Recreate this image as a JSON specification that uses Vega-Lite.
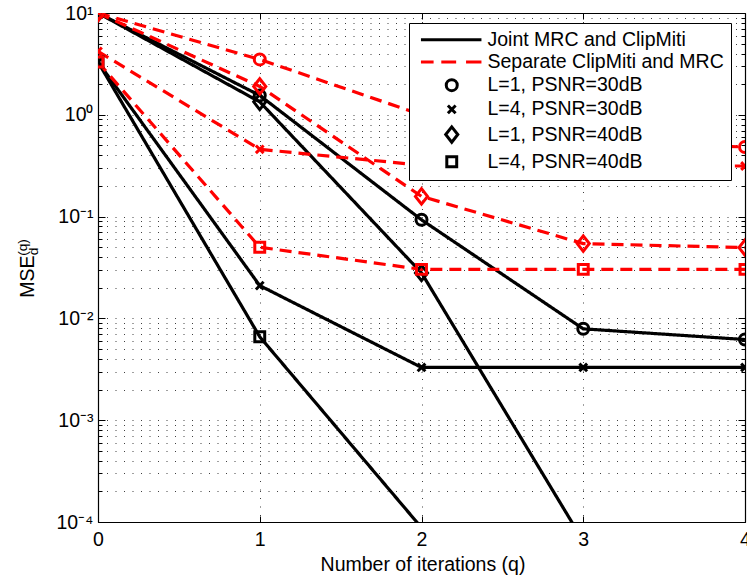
{
  "$schema": "https://vega.github.io/schema/vega-lite/v6.json",
  "width": 647,
  "height": 509,
  "autosize": {"type": "none"},
  "padding": {"left": 98, "top": 13, "right": 2, "bottom": 58},
  "background": "white",
  "config": {
    "font": "Liberation Sans",
    "view": {"stroke": null},
    "axis": {
      "domainColor": "#000000",
      "domainWidth": 1.2,
      "tickColor": "#000000",
      "tickWidth": 1,
      "labelColor": "#000000",
      "titleColor": "#000000",
      "labelFont": "Liberation Sans",
      "titleFont": "Liberation Sans",
      "labelFontSize": 19.5,
      "titleFontSize": 19.5,
      "titleFontWeight": "normal",
      "gridColor": "#000000",
      "gridDash": [1, 7.5],
      "gridWidth": 1,
      "gridOpacity": 0.75,
      "labelFlush": false,
      "labelOverlap": false
    }
  },
  "data": {
    "values": [
      {"method": "Joint MRC and ClipMiti", "config": "L=1, PSNR=30dB", "q": 0, "v": 10},
      {"method": "Joint MRC and ClipMiti", "config": "L=1, PSNR=30dB", "q": 1, "v": 1.55},
      {"method": "Joint MRC and ClipMiti", "config": "L=1, PSNR=30dB", "q": 2, "v": 0.093},
      {"method": "Joint MRC and ClipMiti", "config": "L=1, PSNR=30dB", "q": 3, "v": 0.0079},
      {"method": "Joint MRC and ClipMiti", "config": "L=1, PSNR=30dB", "q": 4, "v": 0.0062},
      {"method": "Joint MRC and ClipMiti", "config": "L=4, PSNR=30dB", "q": 0, "v": 3.3},
      {"method": "Joint MRC and ClipMiti", "config": "L=4, PSNR=30dB", "q": 1, "v": 0.021},
      {"method": "Joint MRC and ClipMiti", "config": "L=4, PSNR=30dB", "q": 2, "v": 0.0033},
      {"method": "Joint MRC and ClipMiti", "config": "L=4, PSNR=30dB", "q": 3, "v": 0.0033},
      {"method": "Joint MRC and ClipMiti", "config": "L=4, PSNR=30dB", "q": 4, "v": 0.0033},
      {"method": "Joint MRC and ClipMiti", "config": "L=1, PSNR=40dB", "q": 0, "v": 10},
      {"method": "Joint MRC and ClipMiti", "config": "L=1, PSNR=40dB", "q": 1, "v": 1.34},
      {"method": "Joint MRC and ClipMiti", "config": "L=1, PSNR=40dB", "q": 2, "v": 0.028},
      {"method": "Joint MRC and ClipMiti", "config": "L=1, PSNR=40dB", "q": 3, "v": 0.000065},
      {"method": "Joint MRC and ClipMiti", "config": "L=1, PSNR=40dB", "q": 4, "v": 0.000001},
      {"method": "Joint MRC and ClipMiti", "config": "L=4, PSNR=40dB", "q": 0, "v": 3.3},
      {"method": "Joint MRC and ClipMiti", "config": "L=4, PSNR=40dB", "q": 1, "v": 0.0066},
      {"method": "Joint MRC and ClipMiti", "config": "L=4, PSNR=40dB", "q": 2, "v": 0.000088},
      {"method": "Joint MRC and ClipMiti", "config": "L=4, PSNR=40dB", "q": 3, "v": 0.000001},
      {"method": "Joint MRC and ClipMiti", "config": "L=4, PSNR=40dB", "q": 4, "v": 0.00000001},
      {"method": "Separate ClipMiti and MRC", "config": "L=1, PSNR=30dB", "q": 0, "v": 10},
      {"method": "Separate ClipMiti and MRC", "config": "L=1, PSNR=30dB", "q": 1, "v": 3.5},
      {"method": "Separate ClipMiti and MRC", "config": "L=1, PSNR=30dB", "q": 2, "v": 1.0},
      {"method": "Separate ClipMiti and MRC", "config": "L=1, PSNR=30dB", "q": 3, "v": 0.55},
      {"method": "Separate ClipMiti and MRC", "config": "L=1, PSNR=30dB", "q": 4, "v": 0.483},
      {"method": "Separate ClipMiti and MRC", "config": "L=4, PSNR=30dB", "q": 0, "v": 4.2},
      {"method": "Separate ClipMiti and MRC", "config": "L=4, PSNR=30dB", "q": 1, "v": 0.458},
      {"method": "Separate ClipMiti and MRC", "config": "L=4, PSNR=30dB", "q": 2, "v": 0.32},
      {"method": "Separate ClipMiti and MRC", "config": "L=4, PSNR=30dB", "q": 3, "v": 0.315},
      {"method": "Separate ClipMiti and MRC", "config": "L=4, PSNR=30dB", "q": 4, "v": 0.314},
      {"method": "Separate ClipMiti and MRC", "config": "L=1, PSNR=40dB", "q": 0, "v": 10},
      {"method": "Separate ClipMiti and MRC", "config": "L=1, PSNR=40dB", "q": 1, "v": 1.9},
      {"method": "Separate ClipMiti and MRC", "config": "L=1, PSNR=40dB", "q": 2, "v": 0.158},
      {"method": "Separate ClipMiti and MRC", "config": "L=1, PSNR=40dB", "q": 3, "v": 0.0543},
      {"method": "Separate ClipMiti and MRC", "config": "L=1, PSNR=40dB", "q": 4, "v": 0.0496},
      {"method": "Separate ClipMiti and MRC", "config": "L=4, PSNR=40dB", "q": 0, "v": 3.3},
      {"method": "Separate ClipMiti and MRC", "config": "L=4, PSNR=40dB", "q": 1, "v": 0.05},
      {"method": "Separate ClipMiti and MRC", "config": "L=4, PSNR=40dB", "q": 2, "v": 0.0303},
      {"method": "Separate ClipMiti and MRC", "config": "L=4, PSNR=40dB", "q": 3, "v": 0.0303},
      {"method": "Separate ClipMiti and MRC", "config": "L=4, PSNR=40dB", "q": 4, "v": 0.0303}
    ]
  },
  "layer": [
    {
      "mark": {"type": "line", "strokeWidth": 3.2, "clip": true},
      "encoding": {
        "x": {
          "field": "q", "type": "quantitative",
          "scale": {"domain": [0, 4], "nice": false, "zero": false},
          "axis": {
            "orient": "bottom",
            "values": [0, 1, 2, 3, 4],
            "format": "d",
            "grid": true,
            "tickSize": -6,
            "labelPadding": 14,
            "title": "Number of iterations (q)",
            "titleX": 324.5,
            "titleY": 48.7,
            "titleAlign": "center",
            "titleBaseline": "alphabetic"
          }
        },
        "y": {
          "field": "v", "type": "quantitative",
          "scale": {"type": "log", "domain": [0.0001, 10], "nice": false},
          "axis": {
            "orient": "left",
            "values": [0.0001, 0.0002, 0.0003, 0.0004, 0.0005, 0.0006, 0.0007, 0.0008, 0.0009, 0.001, 0.002, 0.003, 0.004, 0.005, 0.006, 0.007, 0.008, 0.009, 0.01, 0.02, 0.03, 0.04, 0.05, 0.06, 0.07, 0.08, 0.09, 0.1, 0.2, 0.3, 0.4, 0.5, 0.6, 0.7, 0.8, 0.9, 1, 2, 3, 4, 5, 6, 7, 8, 9, 10],
            "labelExpr": "datum.value == 10 ? '10¹' : datum.value == 1 ? '10⁰' : datum.value == 0.1 ? '10⁻¹' : datum.value == 0.01 ? '10⁻²' : datum.value == 0.001 ? '10⁻³' : datum.value == 0.0001 ? '10⁻⁴' : ''",
            "grid": true,
            "tickSize": {"condition": {"test": "datum.value == 10 || datum.value == 1 || datum.value == 0.1 || datum.value == 0.01 || datum.value == 0.001 || datum.value == 0.0001", "value": -7}, "value": -4},
            "labelPadding": 12,
            "labelBaseline": "middle",
            "title": "MSE",
            "titleAngle": 270,
            "titleX": -71,
            "titleY": 263,
            "titleAlign": "center",
            "titleBaseline": "middle"
          }
        },
        "color": {
          "field": "method", "type": "nominal",
          "scale": {"domain": ["Joint MRC and ClipMiti", "Separate ClipMiti and MRC"], "range": ["#000000", "#ff0000"]},
          "legend": null
        },
        "strokeDash": {
          "field": "method", "type": "nominal",
          "scale": {"domain": ["Joint MRC and ClipMiti", "Separate ClipMiti and MRC"], "range": [[1, 0], [12, 7]]},
          "legend": null
        },
        "detail": {"field": "config"}
      }
    },
    {
      "transform": [{"filter": "datum.v >= 0.0001"}],
      "mark": {"type": "point", "filled": false, "strokeWidth": 3, "size": 121, "opacity": 1, "clip": true},
      "encoding": {
        "x": {
          "field": "q", "type": "quantitative",
          "axis": {
            "orient": "top",
            "values": [1, 2, 3],
            "labels": false,
            "grid": false,
            "tickSize": -6,
            "title": "(q)",
            "titleFontSize": 13.6,
            "titleAngle": 270,
            "titleX": -76,
            "titleY": 234,
            "titleAlign": "center",
            "titleBaseline": "middle"
          }
        },
        "y": {
          "field": "v", "type": "quantitative",
          "axis": {
            "orient": "right",
            "values": [0.0001, 0.0002, 0.0003, 0.0004, 0.0005, 0.0006, 0.0007, 0.0008, 0.0009, 0.001, 0.002, 0.003, 0.004, 0.005, 0.006, 0.007, 0.008, 0.009, 0.01, 0.02, 0.03, 0.04, 0.05, 0.06, 0.07, 0.08, 0.09, 0.1, 0.2, 0.3, 0.4, 0.5, 0.6, 0.7, 0.8, 0.9, 1, 2, 3, 4, 5, 6, 7, 8, 9, 10],
            "labels": false,
            "grid": false,
            "tickSize": {"condition": {"test": "datum.value == 10 || datum.value == 1 || datum.value == 0.1 || datum.value == 0.01 || datum.value == 0.001 || datum.value == 0.0001", "value": -7}, "value": -4},
            "title": "d",
            "titleFontSize": 13.6,
            "titleAngle": 270,
            "titleX": -712,
            "titleY": 238,
            "titleAlign": "center",
            "titleBaseline": "middle"
          }
        },
        "color": {"field": "method", "type": "nominal", "legend": null},
        "shape": {
          "field": "config", "type": "nominal",
          "scale": {
            "domain": ["Joint MRC and ClipMiti", "Separate ClipMiti and MRC", "L=1, PSNR=30dB", "L=4, PSNR=30dB", "L=1, PSNR=40dB", "L=4, PSNR=40dB"],
            "range": ["M-5.6,0H5.4", "M-5.6,0H-3.3M-1.9,0H0.8M2.6,0H5.4", "circle", "M-0.7,-0.7L0.7,0.7M-0.7,0.7L0.7,-0.7", "M0,-1.4L1.1,0L0,1.4L-1.1,0Z", "M-0.9,-0.9H0.9V0.9H-0.9Z"]
          },
          "legend": {
            "orient": "none",
            "legendX": 311,
            "legendY": 10,
            "title": null,
            "symbolSize": 121,
            "symbolStrokeWidth": 3,
            "symbolOpacity": 1,
            "symbolFillColor": "transparent",
            "symbolStrokeColor": {"expr": "datum.value === 'Separate ClipMiti and MRC' ? '#ff0000' : '#000000'"},
            "labelFont": "Liberation Sans",
            "labelFontSize": 19.5,
            "labelColor": "#000000",
            "labelLimit": 400,
            "strokeColor": "#000000",
            "fillColor": "#ffffff",
            "padding": 7,
            "rowPadding": 1.2,
            "symbolOffset": 26,
            "labelOffset": 26
          }
        }
      }
    }
  ],
  "resolve": {"axis": {"x": "independent", "y": "independent"}}
}
